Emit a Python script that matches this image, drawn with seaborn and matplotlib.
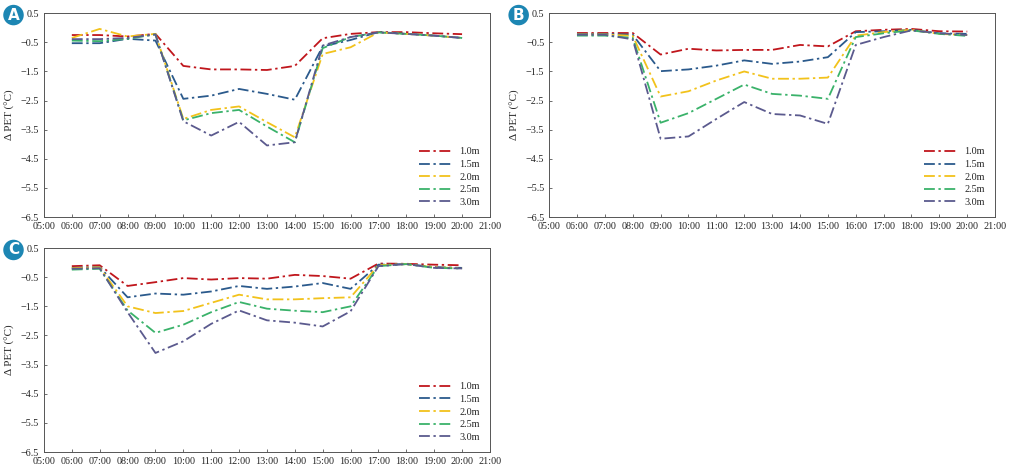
import numpy as np
import pandas as pd
import matplotlib
matplotlib.use("Agg")
import matplotlib.pyplot as plt
import seaborn as sns

hours = [6, 7, 8, 9, 10, 11, 12, 13, 14, 15, 16, 17, 18, 19, 20]
heights = ["1.0m", "1.5m", "2.0m", "2.5m", "3.0m"]

# panel A
a_10 = [-0.25, -0.25, -0.30, -0.21, -1.31, -1.43, -1.43, -1.45, -1.31, -0.36, -0.21, -0.15, -0.15, -0.19, -0.22]
a_15 = [-0.53, -0.53, -0.38, -0.44, -2.44, -2.33, -2.10, -2.27, -2.47, -0.64, -0.42, -0.15, -0.21, -0.27, -0.35]
a_20 = [-0.35, -0.04, -0.30, -0.21, -3.13, -2.82, -2.70, -3.24, -3.76, -0.90, -0.67, -0.16, -0.21, -0.27, -0.35]
a_25 = [-0.44, -0.46, -0.38, -0.23, -3.18, -2.93, -2.82, -3.39, -3.93, -0.70, -0.32, -0.16, -0.21, -0.27, -0.35]
a_30 = [-0.39, -0.39, -0.35, -0.23, -3.21, -3.70, -3.23, -4.04, -3.93, -0.61, -0.32, -0.16, -0.21, -0.27, -0.35]

# panel B
b_10 = [-0.18, -0.18, -0.18, -0.92, -0.72, -0.78, -0.76, -0.76, -0.59, -0.64, -0.12, -0.07, -0.04, -0.12, -0.13]
b_15 = [-0.21, -0.21, -0.24, -1.49, -1.43, -1.30, -1.12, -1.24, -1.16, -1.01, -0.15, -0.12, -0.07, -0.19, -0.21]
b_20 = [-0.23, -0.23, -0.28, -2.36, -2.18, -1.81, -1.50, -1.75, -1.75, -1.71, -0.27, -0.15, -0.07, -0.21, -0.25]
b_25 = [-0.27, -0.27, -0.35, -3.26, -2.93, -2.44, -1.95, -2.27, -2.33, -2.44, -0.32, -0.19, -0.09, -0.21, -0.28]
b_30 = [-0.24, -0.24, -0.40, -3.81, -3.73, -3.13, -2.55, -2.96, -3.01, -3.30, -0.59, -0.32, -0.09, -0.19, -0.25]

# panel C
c_10 = [-0.12, -0.09, -0.80, -0.67, -0.53, -0.58, -0.53, -0.55, -0.42, -0.46, -0.55, -0.03, -0.04, -0.07, -0.09]
c_15 = [-0.18, -0.15, -1.19, -1.06, -1.10, -0.99, -0.80, -0.90, -0.82, -0.70, -0.90, -0.07, -0.05, -0.15, -0.18]
c_20 = [-0.19, -0.16, -1.50, -1.73, -1.66, -1.38, -1.10, -1.26, -1.26, -1.22, -1.19, -0.09, -0.05, -0.16, -0.19]
c_25 = [-0.24, -0.21, -1.64, -2.41, -2.13, -1.70, -1.35, -1.58, -1.65, -1.70, -1.50, -0.12, -0.05, -0.18, -0.20]
c_30 = [-0.21, -0.19, -1.70, -3.10, -2.70, -2.10, -1.64, -1.98, -2.06, -2.19, -1.67, -0.12, -0.05, -0.18, -0.20]

panels = {
    "A": [a_10, a_15, a_20, a_25, a_30],
    "B": [b_10, b_15, b_20, b_25, b_30],
    "C": [c_10, c_15, c_20, c_25, c_30],
}

colors = ["#c0161c", "#2b5a8c", "#f2c21b", "#3ab26a", "#5b5a8e"]
xticks = list(range(5, 22))
xticklabels = [f"{h:02d}:00" for h in xticks]
yticks = [0.5, -0.5, -1.5, -2.5, -3.5, -4.5, -5.5, -6.5]

sns.set_style("ticks")
plt.rcParams["font.family"] = ["Liberation Serif", "DejaVu Serif"]

fig = plt.figure(figsize=(10.15, 4.71), dpi=100)
positions = {
    "A": [0.0433, 0.539, 0.4394, 0.433],
    "B": [0.541, 0.539, 0.4394, 0.433],
    "C": [0.0433, 0.0403, 0.4394, 0.433],
}

for name, series in panels.items():
    rows = []
    for h, vals in zip(heights, series):
        for t, v in zip(hours, vals):
            rows.append({"hour": t, "dPET": v, "height": h})
    df = pd.DataFrame(rows)

    ax = fig.add_axes(positions[name])
    sns.lineplot(data=df, x="hour", y="dPET", hue="height", style="height",
                 palette=colors, dashes=[(6, 2, 1.3, 2)] * 5,
                 linewidth=1.3, ax=ax)
    ax.set_xlim(5, 21)
    ax.set_ylim(-6.5, 0.5)
    ax.set_xticks(xticks)
    ax.set_xticklabels(xticklabels)
    ax.set_yticks(yticks)
    ax.set_yticklabels([f"{y:.1f}".replace("-", "\u2212") for y in yticks])
    ax.tick_params(direction="in", labelsize=7.3, length=2.5, width=0.6, color="#555555")
    ax.set_xlabel("")
    ax.set_ylabel("\u0394 PET (\u00b0C)", fontsize=8, labelpad=4)
    for s in ax.spines.values():
        s.set_linewidth(0.7)
        s.set_color("#555555")
    ax.legend(loc="lower right", frameon=False, fontsize=7.3, handlelength=3.2,
              labelspacing=0.35, borderaxespad=0.6)

    # panel letter badge
    x0, y0, w, hgt = positions[name]
    fig.text(x0 - 0.03, y0 + hgt - 0.004, name, ha="center", va="center",
             fontsize=11, fontweight="bold", color="white", family="DejaVu Sans",
             bbox=dict(boxstyle="circle,pad=0.18", fc="#1d86b3", ec="none"))

fig.savefig("out.png", dpi=100)
